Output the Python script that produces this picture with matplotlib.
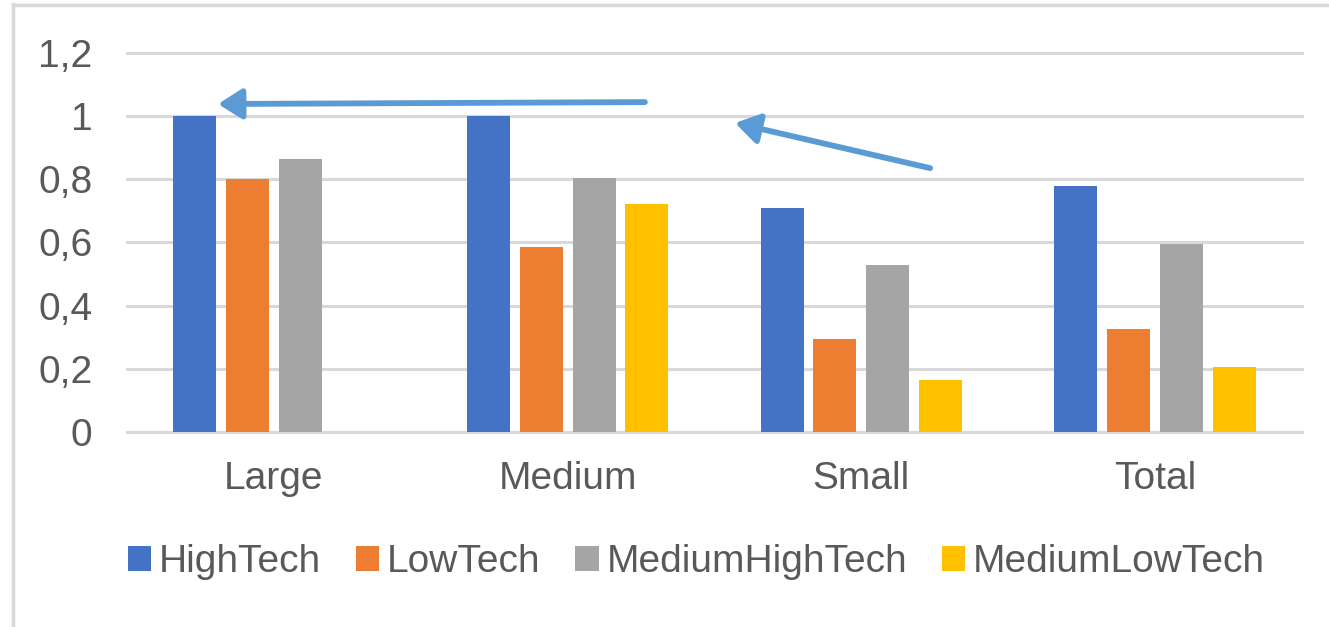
import numpy as np
import matplotlib.pyplot as plt
from matplotlib.patches import Patch
from matplotlib.lines import Line2D

plt.rcParams["font.family"] = ["Liberation Sans", "DejaVu Sans"]

# shares by firm size and technology class
categories = ["Large", "Medium", "Small", "Total"]
series = ["HighTech", "LowTech", "MediumHighTech", "MediumLowTech"]
high_tech = [1.0, 1.0, 0.71, 0.78]
low_tech = [0.80, 0.585, 0.295, 0.325]
medium_high_tech = [0.865, 0.805, 0.53, 0.595]
medium_low_tech = [np.nan, 0.72, 0.165, 0.205]
yticks = [0, 0.2, 0.4, 0.6, 0.8, 1.0, 1.2]
ytick_labels = ["0", "0,2", "0,4", "0,6", "0,8", "1", "1,2"]

colors = ["#4472C4", "#ED7D31", "#A5A5A5", "#FFC000"]
text_col = "#595959"
grid_col = "#D9D9D9"

fig = plt.figure(figsize=(13.29, 6.27), dpi=100)
ax = fig.add_axes([127 / 1329, 1 - 432 / 627, 1175 / 1329, 316 * 1.2 / 627])

x = np.arange(len(categories))
step = 0.18
width = 0.146
all_vals = [high_tech, low_tech, medium_high_tech, medium_low_tech]
for i, (vals, col) in enumerate(zip(all_vals, colors)):
    ax.bar(x + (i - 1.5) * step, vals, width=width, color=col, zorder=3)

ax.set_xlim(-0.5, 3.5)
ax.set_ylim(0, 1.2)
ax.set_yticks(yticks)
ax.set_yticklabels(ytick_labels)
ax.set_xticks(x)
ax.set_xticklabels(categories)
ax.tick_params(axis="y", length=0, pad=25, labelsize=28, labelcolor=text_col)
ax.tick_params(axis="x", length=0, pad=21, labelsize=28, labelcolor=text_col)
for s in ax.spines.values():
    s.set_visible(False)
ax.yaxis.grid(True, color=grid_col, linewidth=2.2, zorder=0)
for gl in ax.get_ygridlines():
    gl.set_clip_on(False)

# arrows pointing back to the full-share bars
arrow_kw = dict(arrowstyle="-|>,head_length=0.6,head_width=0.38",
                color="#5B9BD5", lw=4.2, mutation_scale=24,
                shrinkA=0, shrinkB=0)
ax.annotate("", xy=(-0.19, 1.038), xytext=(1.263, 1.044),
            arrowprops=arrow_kw, annotation_clip=False)
ax.annotate("", xy=(1.57, 0.978), xytext=(2.234, 0.835),
            arrowprops=arrow_kw, annotation_clip=False)

handles = [Patch(facecolor=c, edgecolor="none") for c in colors]
fig.legend(handles, series, loc="center", bbox_to_anchor=(0.524, 1 - 562 / 627),
           ncol=4, frameon=False, fontsize=28, labelcolor=text_col,
           handlelength=0.6, handleheight=0.6, handletextpad=0.2,
           columnspacing=0.9)

# chart frame (left and top edges)
fig.add_artist(Line2D([13 / 1329, 13 / 1329], [0, 1 - 4 / 627],
                      transform=fig.transFigure, color=grid_col, lw=2.5))
fig.add_artist(Line2D([13 / 1329, 1], [1 - 5 / 627, 1 - 5 / 627],
                      transform=fig.transFigure, color=grid_col, lw=2.5))

fig.savefig("out.png", dpi=100)
